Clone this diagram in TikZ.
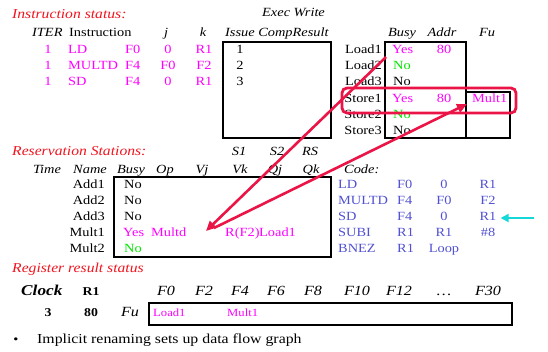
\documentclass[tikz,border=0pt]{standalone}
\usepackage{fontspec}
\setmainfont[FakeStretch=1.15]{Liberation Serif}
\usetikzlibrary{arrows.meta}
\definecolor{ttlred}{RGB}{240,20,30}
\definecolor{mag}{RGB}{255,0,255}
\definecolor{grn}{RGB}{0,230,0}
\definecolor{codeblue}{RGB}{80,80,210}
\definecolor{crimson}{RGB}{235,20,70}
\definecolor{cyanarrow}{RGB}{20,215,215}
\tikzset{
  txt/.style={inner sep=0pt, text height=1.5ex, text depth=.3ex, font=\fontsize{12.5}{14}\selectfont},
  ttl/.style={txt, anchor=west, text=ttlred, font=\fontsize{13.6}{16}\selectfont\itshape},
  hdr/.style={txt, font=\fontsize{12.5}{14}\selectfont\itshape},
  mg/.style={txt, text=mag},
  gr/.style={txt, text=grn},
  cb/.style={txt, text=codeblue},
  regf/.style={txt, font=\fontsize{14}{16}\selectfont\itshape},
  frame/.style={line width=1.4pt},
  bigarrow/.style={crimson, line width=2.6pt, -{Triangle[length=10pt,width=9pt]}},
}
\begin{document}
\begin{tikzpicture}[x=1pt,y=-1pt]
\useasboundingbox (0,0) rectangle (548,352);

% ---------- Instruction status ----------
\node[ttl] (istat) at (12,16) {Instruction status:};
\node[hdr, anchor=west] (hexec) at (262,14) {Exec Write};
\node[hdr, anchor=west] (hiter) at (32,34) {ITER};
\node[txt, anchor=west] (hinstr) at (69,34) {Instruction};
\node[hdr] (hj) at (166,34) {j};
\node[hdr] (hk) at (203,34) {k};
\node[hdr, anchor=west] (hissue) at (225,34) {Issue CompResult};

\foreach \r/\y/\op/\d/\j/\k in {1/51/LD/F0/0/R1, 2/67/MULTD/F4/F0/F2, 3/83/SD/F4/0/R1}{
  \node[mg] (it\r) at (48,\y) {1};
  \node[mg, anchor=west] (iop\r) at (68,\y) {\op};
  \node[mg, anchor=west] (id\r) at (125,\y) {\d};
  \node[mg] (ij\r) at (168,\y) {\j};
  \node[mg] (ik\r) at (204,\y) {\k};
  \node[txt] (iss\r) at (240,\y) {\r};
}
\draw[frame] (223,42) rectangle (331,138);

% ---------- Load / store buffers ----------
\node[hdr] (hbbusy) at (402,34) {Busy};
\node[hdr] (hbaddr) at (442,34) {Addr};
\node[hdr] (hbfu) at (487,34) {Fu};
\foreach \n/\y in {Load1/51, Load2/67, Load3/83, Store1/100, Store2/116, Store3/132}{
  \node[txt, anchor=east] (b\n) at (382,\y) {\n};
}
\node[mg, anchor=west] (bby1) at (392,51) {Yes};
\node[gr, anchor=west] (bby2) at (393,67) {No};
\node[txt, anchor=west] (bby3) at (393,83) {No};
\node[mg, anchor=west] (bby4) at (392,100) {Yes};
\node[gr, anchor=west] (bby5) at (393,116) {No};
\node[txt, anchor=west] (bby6) at (393,132) {No};
\node[mg] (bad1) at (444,51) {80};
\node[mg] (bad4) at (444,100) {80};
\node[mg, anchor=west] (bfu4) at (472,100) {Mult1};
\draw[frame] (385,42) rectangle (466,138);
\draw[frame] (466,92) rectangle (510,138);
\draw[crimson, line width=2.8pt, rounded corners=5pt] (342,88) rectangle (516,113);

% ---------- Reservation stations ----------
\node[ttl] (rstat) at (12,153) {Reservation Stations:};
\node[hdr] (hs1) at (239,153) {S1};
\node[hdr] (hs2) at (277,153) {S2};
\node[hdr] (hrs) at (310,153) {RS};
\foreach \t/\x in {Time/47, Name/90, Busy/131, Op/165, Vj/202, Vk/240, Qj/275, Qk/311}{
  \node[hdr] (r\t) at (\x,171) {\t};
}
\node[hdr, anchor=west] (hcode) at (344,171) {Code:};
\foreach \n/\y in {Add1/186, Add2/202, Add3/218, Mult1/234, Mult2/250}{
  \node[txt, anchor=east] (rs\n) at (105,\y) {\n};
}
\node[txt, anchor=west] (rb1) at (124,186) {No};
\node[txt, anchor=west] (rb2) at (124,202) {No};
\node[txt, anchor=west] (rb3) at (124,218) {No};
\node[mg, anchor=west] (rb4) at (123,234) {Yes};
\node[gr, anchor=west] (rb5) at (124,250) {No};
\node[mg, anchor=west] (rop4) at (151,234) {Multd};
\node[mg, anchor=west] (rvk4) at (225,234) {R(F2)};
\node[mg, anchor=west] (rqj4) at (259,234) {Load1};
\draw[frame] (114,177) rectangle (331,257);

% ---------- Code listing ----------
\foreach \r/\y/\a/\b/\c/\d in {1/186/LD/F0/0/R1, 2/202/MULTD/F4/F0/F2, 3/218/SD/F4/0/R1, 4/234/SUBI/R1/R1/\#8, 5/250/BNEZ/R1/Loop/{}}{
  \node[cb, anchor=west] (ca\r) at (338,\y) {\a};
  \node[cb, anchor=west] (cb\r) at (397,\y) {\b};
  \node[cb] (cc\r) at (444,\y) {\c};
  \node[cb] (cd\r) at (488,\y) {\d};
}
\coordinate (cyantail) at (534,218);
\coordinate (cyantip) at ([xshift=4pt]cd3.east);
\draw[cyanarrow, line width=2pt, -{Triangle[length=8pt,width=8pt]}] (cyantail) -- (cyantip);

% ---------- Register result status ----------
\node[ttl] (regstat) at (12,270) {Register result status};
\node[txt, anchor=west, font=\fontsize{15}{18}\selectfont\bfseries\itshape] (hclock) at (21,293) {Clock};
\node[txt, font=\fontsize{12}{14}\selectfont\bfseries] (hr1) at (91,293) {R1};
\foreach \f/\x in {F0/166, F2/204, F4/240, F6/276, F8/313, F10/357, F12/399, F30/488}{
  \node[regf] (reg\f) at (\x,293) {\f};
}
\node[regf] (regdots) at (444,293) {\dots};
\node[txt, font=\fontsize{12}{14}\selectfont\bfseries] (vclock) at (48,314) {3};
\node[txt, font=\fontsize{12}{14}\selectfont\bfseries] (vr1) at (91,314) {80};
\node[regf] (hfu) at (130,314) {Fu};
\draw[frame] (149,303) rectangle (512,325);
\node[mg, anchor=west, font=\fontsize{11}{13}\selectfont] (fu0) at (153,314) {Load1};
\node[mg, anchor=west, font=\fontsize{11}{13}\selectfont] (fu4) at (227,314) {Mult1};

% ---------- Bullet ----------
\node[txt] (bul) at (16,341) {•};
\node[txt, anchor=west, font=\fontsize{13.75}{16}\selectfont] (note) at (37,341) {Implicit renaming sets up data flow graph};

% ---------- Dataflow arrows ----------
\coordinate (loadsrc) at (386,57);
\coordinate (multtip) at (206,231);
\coordinate (multsrc) at (214,228);
\coordinate (storetip) at (467,104);
\draw[bigarrow] (loadsrc) -- (multtip);
\draw[bigarrow] (multsrc) -- (storetip);
\end{tikzpicture}
\end{document}
